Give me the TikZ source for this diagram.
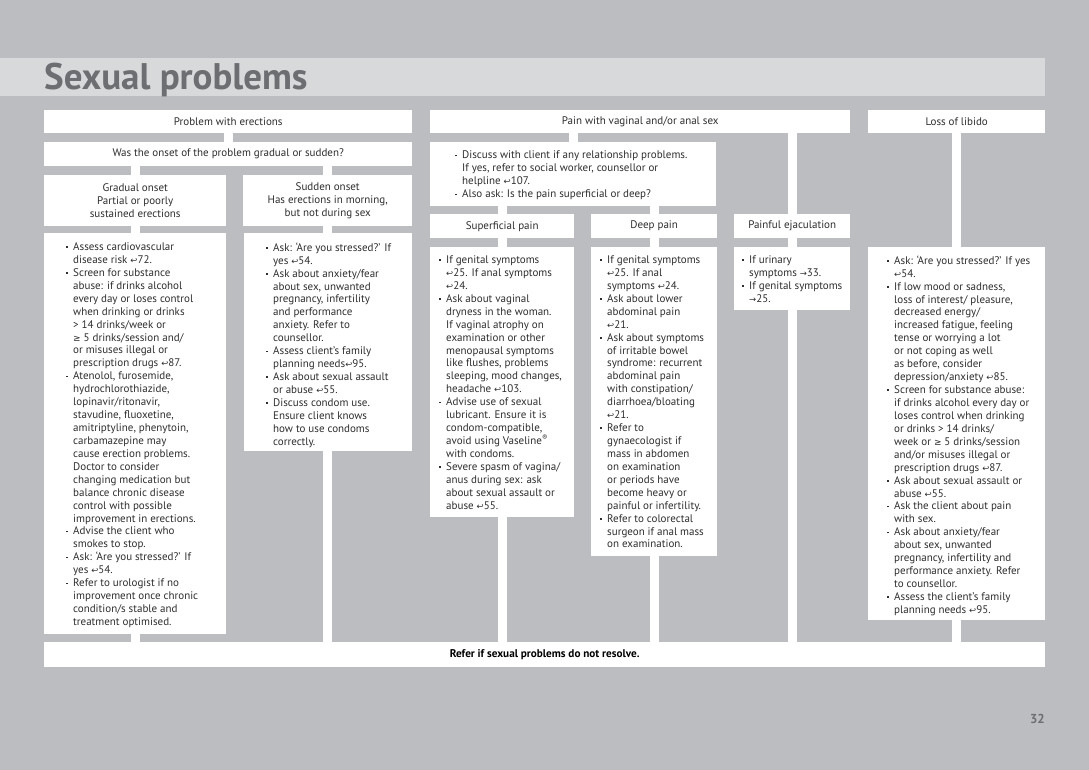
\documentclass[tikz,border=0pt]{standalone}
\usepackage{fontspec}
\setmainfont{PT Sans}
\newfontfamily\symf{DejaVu Sans}
\definecolor{bg}{HTML}{BCBDC0}
\definecolor{band}{HTML}{D8D9DA}
\definecolor{ttl}{HTML}{6D6E71}
\definecolor{ink}{HTML}{2E2E2E}
\newcommand\ret{{\symf\fontsize{8.5}{8.5}\selectfont ↩}}
\newcommand\rar{{\symf\fontsize{8.5}{8.5}\selectfont →}}
\newcommand\geqs{{\symf\fontsize{9}{9}\selectfont ≥}}
\newcommand\bu{\makebox[7pt][l]{\raisebox{2.5pt}{\rule{1.7pt}{1.7pt}}}}
\newcommand\cu{\hspace*{7pt}}
\tikzset{
  box/.style={fill=white, draw=none, inner sep=0pt, anchor=north west, text=ink,
              align=center, font=\fontsize{11}{12.93}\selectfont},
  txt/.style={inner sep=0pt, anchor=north west, align=left, text=ink,
              font=\fontsize{11}{12.93}\selectfont},
  conn/.style={draw=white, line width=9pt}
}
\begin{document}
\begin{tikzpicture}[x=1pt, y=-1pt]
\useasboundingbox (0,0) rectangle (1089,770);
\fill[bg] (0,0) rectangle (1089,770);
\fill[band] (0,58) rectangle (1045,96);
\node[anchor=base west, inner sep=0pt, text=ttl, font=\fontsize{37}{40}\selectfont\bfseries] (title) at (44,90) {Sexual problems};

% ---- Column 1: erections
\node[box, minimum width=368pt, minimum height=23pt] (h1) at (44,110) {Problem with erections};
\node[box, minimum width=368pt, minimum height=24pt] (q) at (44,142) {Was the onset of the problem gradual or sudden?};
\node[box, minimum width=182pt, minimum height=51pt] (gr) at (44,175) {Gradual onset\\Partial or poorly\\sustained erections};
\node[box, minimum width=169pt, minimum height=51pt] (su) at (243,175) {Sudden onset\\Has erections in morning,\\but not during sex};
\node[box, minimum width=182pt, minimum height=401pt] (grb) at (44,233) {};
\node[box, minimum width=168pt, minimum height=218pt] (sub) at (244,233) {};
\node[txt] (grt) at (66,242.5) {\bu Assess cardiovascular\\
\cu disease risk \ret72.\\
\bu Screen for substance\\
\cu abuse: if drinks alcohol\\
\cu every day or loses control\\
\cu when drinking or drinks\\
\cu > 14 drinks/week or\\
\cu \geqs\ 5 drinks/session and/\\
\cu or misuses illegal or\\
\cu prescription drugs \ret87.\\
\bu Atenolol, furosemide,\\
\cu hydrochlorothiazide,\\
\cu lopinavir/ritonavir,\\
\cu stavudine, fluoxetine,\\
\cu amitriptyline, phenytoin,\\
\cu carbamazepine may\\
\cu cause erection problems.\\
\cu Doctor to consider\\
\cu changing medication but\\
\cu balance chronic disease\\
\cu control with possible\\
\cu improvement in erections.\\
\bu Advise the client who\\
\cu smokes to stop.\\
\bu Ask: ‘Are you stressed?’ If\\
\cu yes \ret54.\\
\bu Refer to urologist if no\\
\cu improvement once chronic\\
\cu condition/s stable and\\
\cu treatment optimised.};
\node[txt] (sut) at (266,242.5) {\bu Ask: ‘Are you stressed?’ If\\
\cu yes \ret54.\\
\bu Ask about anxiety/fear\\
\cu about sex, unwanted\\
\cu pregnancy, infertility\\
\cu and performance\\
\cu anxiety. Refer to\\
\cu counsellor.\\
\bu Assess client’s family\\
\cu planning needs\ret95.\\
\bu Ask about sexual assault\\
\cu or abuse \ret55.\\
\bu Discuss condom use.\\
\cu Ensure client knows\\
\cu how to use condoms\\
\cu correctly.};

% ---- Column 2: pain
\node[box, minimum width=420pt, minimum height=23pt] (h2) at (430,110) {Pain with vaginal and/or anal sex};
\node[box, minimum width=286pt, minimum height=64pt] (dis) at (430,142) {};
\node[txt] (dist) at (455,151) {\bu Discuss with client if any relationship problems.\\
\cu If yes, refer to social worker, counsellor or\\
\cu helpline \ret107.\\
\bu Also ask: Is the pain superficial or deep?};
\node[box, minimum width=144pt, minimum height=24pt] (sp) at (430,214) {Superficial pain};
\node[box, minimum width=126pt, minimum height=24pt] (dp) at (591,214) {Deep pain};
\node[box, minimum width=116pt, minimum height=24pt] (ej) at (734,214) {Painful ejaculation};
\node[box, minimum width=144pt, minimum height=270pt] (spb) at (430,247) {};
\node[box, minimum width=126pt, minimum height=309pt] (dpb) at (591,247) {};
\node[box, minimum width=116pt, minimum height=63pt] (ejb) at (734,247) {};
\node[txt] (spt) at (439,255.5) {\bu If genital symptoms\\
\cu \ret25. If anal symptoms\\
\cu \ret24.\\
\bu Ask about vaginal\\
\cu dryness in the woman.\\
\cu If vaginal atrophy on\\
\cu examination or other\\
\cu menopausal symptoms\\
\cu like flushes, problems\\
\cu sleeping, mood changes,\\
\cu headache \ret103.\\
\bu Advise use of sexual\\
\cu lubricant. Ensure it is\\
\cu condom-compatible,\\
\cu avoid using Vaseline\textsuperscript{®}\\
\cu with condoms.\\
\bu Severe spasm of vagina/\\
\cu anus during sex: ask\\
\cu about sexual assault or\\
\cu abuse \ret55.};
\node[txt] (dpt) at (600,255.5) {\bu If genital symptoms\\
\cu \ret25. If anal\\
\cu symptoms \ret24.\\
\bu Ask about lower\\
\cu abdominal pain\\
\cu \ret21.\\
\bu Ask about symptoms\\
\cu of irritable bowel\\
\cu syndrome: recurrent\\
\cu abdominal pain\\
\cu with constipation/\\
\cu diarrhoea/bloating\\
\cu \ret21.\\
\bu Refer to\\
\cu gynaecologist if\\
\cu mass in abdomen\\
\cu on examination\\
\cu or periods have\\
\cu become heavy or\\
\cu painful or infertility.\\
\bu Refer to colorectal\\
\cu surgeon if anal mass\\
\cu on examination.};
\node[txt] (ejt) at (742,255.5) {\bu If urinary\\
\cu symptoms \rar33.\\
\bu If genital symptoms\\
\cu \rar25.};

% ---- Column 3: libido
\node[box, minimum width=177pt, minimum height=23pt] (h3) at (868,110) {Loss of libido};
\node[box, minimum width=177pt, minimum height=373pt] (lib) at (868,247) {};
\node[txt] (libt) at (887,255.5) {\bu Ask: ‘Are you stressed?’ If yes\\
\cu \ret54.\\
\bu If low mood or sadness,\\
\cu loss of interest/ pleasure,\\
\cu decreased energy/\\
\cu increased fatigue, feeling\\
\cu tense or worrying a lot\\
\cu or not coping as well\\
\cu as before, consider\\
\cu depression/anxiety \ret85.\\
\bu Screen for substance abuse:\\
\cu if drinks alcohol every day or\\
\cu loses control when drinking\\
\cu or drinks > 14 drinks/\\
\cu week or \geqs\ 5 drinks/session\\
\cu and/or misuses illegal or\\
\cu prescription drugs \ret87.\\
\bu Ask about sexual assault or\\
\cu abuse \ret55.\\
\bu Ask the client about pain\\
\cu with sex.\\
\bu Ask about anxiety/fear\\
\cu about sex, unwanted\\
\cu pregnancy, infertility and\\
\cu performance anxiety. Refer\\
\cu to counsellor.\\
\bu Assess the client’s family\\
\cu planning needs \ret95.};

% ---- bottom
\node[box, minimum width=1001pt, minimum height=25pt, font=\fontsize{11.2}{12}\selectfont\bfseries, text=black] (bot) at (44,642) {Refer if sexual problems do not resolve.};
\node[anchor=base east, inner sep=0pt, text=ttl, font=\fontsize{13}{14}\selectfont\bfseries] (pg) at (1045,723) {32};

% ---- connectors
\draw[conn] (h1.south) -- (h1.south |- q.north);
\draw[conn] (q.south -| gr.north) -- (gr.north);
\draw[conn] (q.south -| su.north) -- (su.north);
\draw[conn] (gr.south) -- (gr.south |- grb.north);
\draw[conn] (su.south) -- (su.south |- sub.north);
\draw[conn] (grb.south -| gr.south) -- (bot.north -| gr.south);
\draw[conn] (sub.south -| su.south) -- (bot.north -| su.south);
\draw[conn] (h2.south -| dis.north) -- (dis.north);
\draw[conn] (dis.south -| sp.north) -- (sp.north);
\draw[conn] (dis.south -| dp.north) -- (dp.north);
\draw[conn] (h2.south -| ej.north) -- (ej.north);
\draw[conn] (sp.south) -- (spb.north);
\draw[conn] (dp.south) -- (dpb.north);
\draw[conn] (ej.south) -- (ejb.north);
\draw[conn] (h3.south) -- (lib.north);
\draw[conn] (spb.south) -- (spb.south |- bot.north);
\draw[conn] (dpb.south) -- (dpb.south |- bot.north);
\draw[conn] (ejb.south) -- (ejb.south |- bot.north);
\draw[conn] (lib.south) -- (lib.south |- bot.north);
\end{tikzpicture}
\end{document}
